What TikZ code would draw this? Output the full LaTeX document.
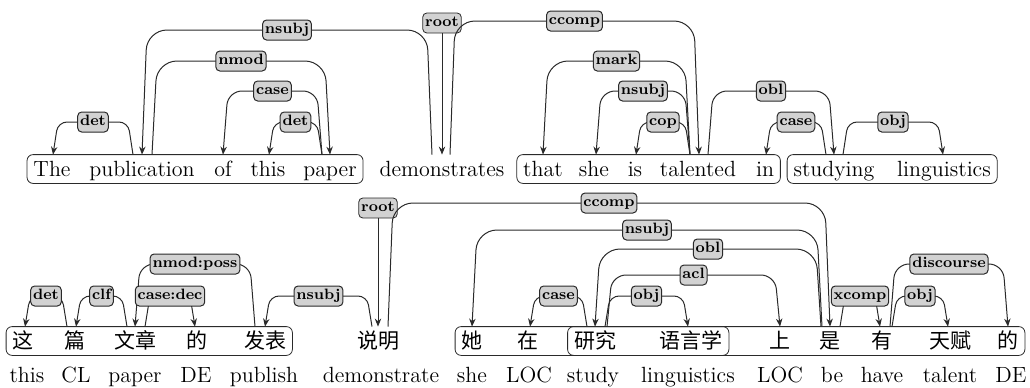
\documentclass[tikz,border=0pt]{standalone}
\usepackage{fontspec}
\usetikzlibrary{arrows.meta, fit}
\newfontfamily\cjk{Noto Sans CJK SC}
\definecolor{Edge}{HTML}{2A2A2A}
\definecolor{Tag}{HTML}{D2D2D2}

\begin{document}
\begin{tikzpicture}[
    x=0.5pt, y=-0.5pt,
    arc/.style={draw=Edge, line width=0.5pt, rounded corners=4.5pt, -{Stealth[length=4pt, width=3.2pt]}},
    midArc/.style={rounded corners=7pt},
    highArc/.style={rounded corners=10pt},
    rel/.style={draw=Edge, fill=Tag, rounded corners=2pt, inner xsep=1.2pt, inner ysep=1.5pt, text height=5.4pt, text depth=1.6pt, font=\fontsize{7.5}{8}\selectfont\bfseries},
    word/.style={anchor=base, inner xsep=1.5pt, inner ysep=0pt, text height=10.5pt, text depth=3.5pt, font=\fontsize{11}{13}\selectfont},
    hanzi/.style={word, font=\fontsize{10.5}{13}\selectfont\cjk},
    gloss/.style={anchor=base, inner sep=0pt, font=\fontsize{11}{13}\selectfont},
    group/.style={draw=Edge, rounded corners=3pt, inner xsep=1.5pt, inner ysep=0pt},
  ]
  \useasboundingbox (0,0) rectangle (1030,387);
  % levels
  \coordinate (lvA) at (0,122);
  \coordinate (lvB) at (0,91);
  \coordinate (lvC) at (0,61);
  \coordinate (lvD) at (0,30);
  \coordinate (lvE) at (0,21);
  \coordinate (lvF) at (0,296);
  \coordinate (lvG) at (0,275);
  \coordinate (lvH) at (0,264);
  \coordinate (lvI) at (0,249);
  \coordinate (lvJ) at (0,230);
  \coordinate (lvK) at (0,203);

  % english sentence
  \node[word] (the)   at (52,176)  {The};
  \node[word] (pub)   at (142,176) {publication};
  \node[word] (of)    at (223,176) {of};
  \node[word] (this)  at (268,176) {this};
  \node[word] (paper) at (330,176) {paper};
  \node[word] (dem)   at (442,176) {demonstrates};
  \node[word] (that)  at (543,176) {that};
  \node[word] (she)   at (594,176) {she};
  \node[word] (is)    at (635,176) {is};
  \node[word] (tal)   at (698,176) {talented};
  \node[word] (in)    at (765,176) {in};
  \node[word] (stu)   at (834,176) {studying};
  \node[word] (ling)  at (944,176) {linguistics};
  \node[group, fit=(the)(paper)] (grpA) {};
  \node[group, fit=(that)(in)]   (grpB) {};
  \node[group, fit=(stu)(ling)]  (grpC) {};

  % chinese sentence
  \node[hanzi] (zhe)      at (23,348)   {这};
  \node[hanzi] (pian)     at (75,348)   {篇};
  \node[hanzi] (wenzhang) at (135,348)  {文章};
  \node[hanzi] (deA)      at (197,348)  {的};
  \node[hanzi] (fabiao)   at (265,348)  {发表};
  \node[hanzi] (shuoming) at (378,348)  {说明};
  \node[hanzi] (ta)       at (472,348)  {她};
  \node[hanzi] (zai)      at (528,348)  {在};
  \node[hanzi] (yanjiu)   at (595,348)  {研究};
  \node[hanzi] (yuyanxue) at (691,348)  {语言学};
  \node[hanzi] (shang)    at (780,348)  {上};
  \node[hanzi] (shi)      at (830,348)  {是};
  \node[hanzi] (you)      at (882,348)  {有};
  \node[hanzi] (tianfu)   at (950,348)  {天赋};
  \node[hanzi] (deB)      at (1008,348) {的};
  \node[group, fit=(zhe)(fabiao)]    (grpD) {};
  \node[group, fit=(ta)(deB)]        (grpE) {};
  \node[group, fit=(yanjiu)(yuyanxue)] (grpF) {};

  % glosses
  \node[gloss] (gThis)   at (27,382)   {this};
  \node[gloss] (gCL)     at (76,382)   {CL};
  \node[gloss] (gPaper)  at (135,382)  {paper};
  \node[gloss] (gDeA)    at (196,382)  {DE};
  \node[gloss] (gPub)    at (264,382)  {publish};
  \node[gloss] (gDem)    at (381,382)  {demonstrate};
  \node[gloss] (gShe)    at (472,382)  {she};
  \node[gloss] (gLocA)   at (529,382)  {LOC};
  \node[gloss] (gStudy)  at (593,382)  {study};
  \node[gloss] (gLing)   at (688,382)  {linguistics};
  \node[gloss] (gLocB)   at (780,382)  {LOC};
  \node[gloss] (gBe)     at (832,382)  {be};
  \node[gloss] (gHave)   at (882,382)  {have};
  \node[gloss] (gTalent) at (950,382)  {talent};
  \node[gloss] (gDeB)    at (1011,382) {DE};

  % english arcs
  \draw[arc] ([xshift=-4.5pt]pub.north) -- ([xshift=-7pt]pub.north |- lvA) -- node[rel] (tDetA) {det} ([xshift=3pt]the.north |- lvA) -- ([xshift=0.5pt]the.north);
  \draw[arc, highArc] ([xshift=-5pt]dem.north) -- ([xshift=-7.5pt]dem.north |- lvD) -- node[rel] (tNsubjA) {nsubj} ([xshift=2.5pt]pub.north |- lvD) -- (pub.north);
  \draw[arc, highArc] ([xshift=5pt]pub.north) -- ([xshift=7.5pt]pub.north |- lvC) -- node[rel] (tNmod) {nmod} ([xshift=-2.5pt]paper.north |- lvC) -- (paper.north);
  \draw[arc, midArc] ([xshift=-4pt]paper.north) -- ([xshift=-6.5pt]paper.north |- lvB) -- node[rel] (tCaseA) {case} ([xshift=2.5pt]of.north |- lvB) -- (of.north);
  \draw[arc] ([xshift=-4pt]paper.north) -- ([xshift=-6.5pt]paper.north |- lvA) -- node[rel] (tDetB) {det} ([xshift=3pt]this.north |- lvA) -- ([xshift=0.5pt]this.north);
  \node[rel] (tRootA) at (442,23) {root};
  \draw[arc] (tRootA) -- (dem.north);
  \draw[arc, highArc] ([xshift=4pt]dem.north) -- ([xshift=6.5pt]dem.north |- lvE) -- node[rel] (tCcompA) {ccomp} ([xshift=-2pt]tal.north |- lvE) -- ([xshift=0.5pt]tal.north);
  \draw[arc, highArc] ([xshift=-4pt]tal.north) -- ([xshift=-6.5pt]tal.north |- lvC) -- node[rel] (tMark) {mark} ([xshift=2.5pt]that.north |- lvC) -- (that.north);
  \draw[arc, midArc] ([xshift=-4pt]tal.north) -- ([xshift=-6.5pt]tal.north |- lvB) -- node[rel] (tNsubjB) {nsubj} ([xshift=3.5pt]she.north |- lvB) -- ([xshift=1pt]she.north);
  \draw[arc] ([xshift=-4pt]tal.north) -- ([xshift=-6.5pt]tal.north |- lvA) -- node[rel] (tCop) {cop} ([xshift=3pt]is.north |- lvA) -- ([xshift=0.5pt]is.north);
  \draw[arc, midArc] ([xshift=5pt]tal.north) -- ([xshift=7.5pt]tal.north |- lvB) -- node[rel] (tOblA) {obl} ([xshift=-2.5pt]stu.north |- lvB) -- (stu.north);
  \draw[arc] ([xshift=-4pt]stu.north) -- ([xshift=-6.5pt]stu.north |- lvA) -- node[rel] (tCaseB) {case} ([xshift=3pt]in.north |- lvA) -- ([xshift=0.5pt]in.north);
  \draw[arc] ([xshift=4.5pt]stu.north) -- ([xshift=7pt]stu.north |- lvA) -- node[rel] (tObjA) {obj} ([xshift=-3pt]ling.north |- lvA) -- ([xshift=-0.5pt]ling.north);

  % chinese arcs
  \draw[arc] ([xshift=-4pt]pian.north) -- ([xshift=-6.5pt]pian.north |- lvF) -- node[rel] (tDetC) {det} ([xshift=3.5pt]zhe.north |- lvF) -- ([xshift=1pt]zhe.north);
  \draw[arc] ([xshift=-4pt]wenzhang.north) -- ([xshift=-6.5pt]wenzhang.north |- lvF) -- node[rel] (tClf) {clf} ([xshift=3pt]pian.north |- lvF) -- ([xshift=0.5pt]pian.north);
  \draw[arc, midArc] ([xshift=-5pt]fabiao.north) -- ([xshift=-7.5pt]fabiao.north |- lvH) -- node[rel] (tPoss) {nmod:poss} ([xshift=2.5pt]wenzhang.north |- lvH) -- (wenzhang.north);
  \draw[arc] ([xshift=5pt]wenzhang.north) -- ([xshift=7.5pt]wenzhang.north |- lvF) -- node[rel] (tCaseDec) {case:dec} ([xshift=-3.5pt]deA.north |- lvF) -- ([xshift=-1pt]deA.north);
  \draw[arc] ([xshift=-3pt]shuoming.north) -- ([xshift=-5.5pt]shuoming.north |- lvF) -- node[rel] (tNsubjC) {nsubj} ([xshift=2.5pt]fabiao.north |- lvF) -- (fabiao.north);
  \node[rel] (tRootB) at (378,208) {root};
  \draw[arc] (tRootB) -- (shuoming.north);
  \draw[arc, highArc] ([xshift=5pt]shuoming.north) -- ([xshift=7.5pt]shuoming.north |- lvK) -- node[rel] (tCcompB) {ccomp} ([xshift=-2.5pt]shi.north |- lvK) -- (shi.north);
  \draw[arc, highArc] ([xshift=-4pt]shi.north) -- ([xshift=-6.5pt]shi.north |- lvJ) -- node[rel] (tNsubjD) {nsubj} ([xshift=2.5pt]ta.north |- lvJ) -- (ta.north);
  \draw[arc, highArc] ([xshift=-4.5pt]shi.north) -- ([xshift=-7pt]shi.north |- lvI) -- node[rel] (tOblB) {obl} ([xshift=2.5pt]yanjiu.north |- lvI) -- (yanjiu.north);
  \draw[arc, midArc] ([xshift=6pt]yanjiu.north) -- ([xshift=8.5pt]yanjiu.north |- lvG) -- node[rel] (tAcl) {acl} ([xshift=-2.5pt]shang.north |- lvG) -- (shang.north);
  \draw[arc] ([xshift=5pt]yanjiu.north) -- ([xshift=7.5pt]yanjiu.north |- lvF) -- node[rel] (tObjB) {obj} ([xshift=-4pt]yuyanxue.north |- lvF) -- ([xshift=-1.5pt]yuyanxue.north);
  \draw[arc] ([xshift=-4pt]yanjiu.north) -- ([xshift=-6.5pt]yanjiu.north |- lvF) -- node[rel] (tCaseC) {case} ([xshift=3.5pt]zai.north |- lvF) -- ([xshift=1pt]zai.north);
  \draw[arc] ([xshift=5pt]shi.north) -- ([xshift=7.5pt]shi.north |- lvF) -- node[rel] (tXcomp) {xcomp} ([xshift=-3.5pt]you.north |- lvF) -- ([xshift=-1pt]you.north);
  \draw[arc, midArc] ([xshift=4pt]you.north) -- ([xshift=6.5pt]you.north |- lvH) -- node[rel] (tDisc) {discourse} ([xshift=-2.5pt]deB.north |- lvH) -- (deB.north);
  \draw[arc] ([xshift=5pt]you.north) -- ([xshift=7.5pt]you.north |- lvF) -- node[rel] (tObjC) {obj} ([xshift=-3.5pt]tianfu.north |- lvF) -- ([xshift=-1pt]tianfu.north);
\end{tikzpicture}
\end{document}
